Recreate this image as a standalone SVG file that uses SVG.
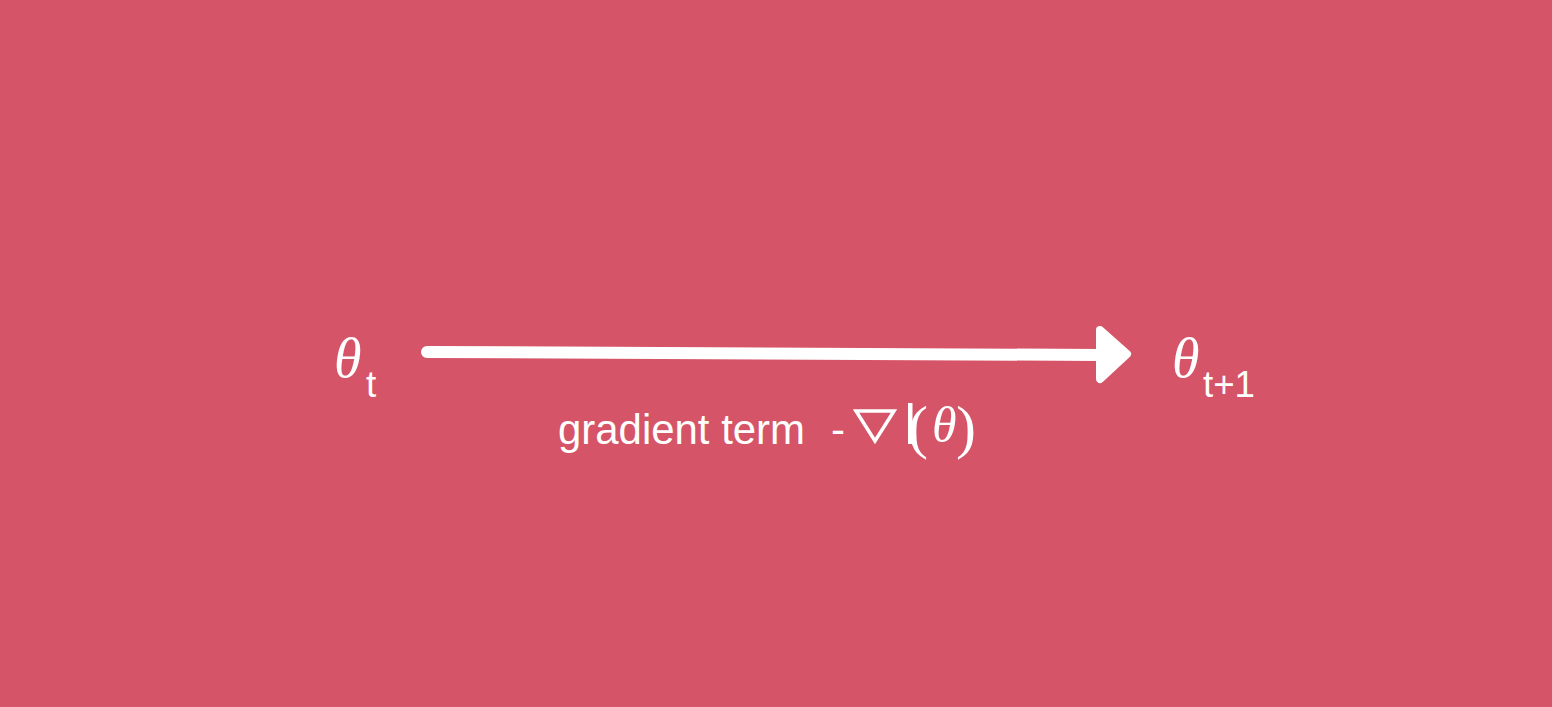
<svg xmlns="http://www.w3.org/2000/svg" width="1552" height="707" viewBox="0 0 1552 707">
<style>
.sym{font-family:"Liberation Serif","DejaVu Serif",serif;font-style:italic;fill:#fff}
.sub{font-family:"Liberation Sans","DejaVu Sans",sans-serif;fill:#fff}
.par{font-family:"Liberation Serif","DejaVu Serif",serif;fill:#fff;font-size:60px}
.lbl{font-family:"Liberation Sans","DejaVu Sans",sans-serif;fill:#fff;font-size:42px}
</style>
<rect width="1552" height="707" fill="#D65467"/>
<g id="node-theta-t">
<text class="sym" x="334" y="377" font-size="56">θ</text>
<text class="sub" x="366" y="397" font-size="37">t</text>
</g>
<g id="node-theta-t1">
<text class="sym" x="1172" y="377" font-size="56">θ</text>
<text class="sub" x="1203" y="397" font-size="37" textLength="52" lengthAdjust="spacingAndGlyphs">t+1</text>
</g>
<g id="connectors">
<line x1="427" y1="352" x2="1102" y2="355" stroke="#fff" stroke-width="12" stroke-linecap="round"/>
<path d="M1100,330 L1127,354 L1100,379 Z" fill="#fff" stroke="#fff" stroke-width="8" stroke-linejoin="round"/>
</g>
<g id="label">
<text class="lbl" x="558" y="444" textLength="247" lengthAdjust="spacingAndGlyphs">gradient term</text>
<text class="lbl" x="831" y="444">-</text>
<path d="M856,411 L894,411 L875,441 Z" fill="none" stroke="#fff" stroke-width="3.5" stroke-linejoin="miter"/>
<rect x="908" y="403" width="4.5" height="41" fill="#fff"/>
<text class="par" x="908" y="447">(</text>
<text class="sym" x="932" y="442" font-size="50">θ</text>
<text class="par" x="956" y="447">)</text>
</g>
</svg>
